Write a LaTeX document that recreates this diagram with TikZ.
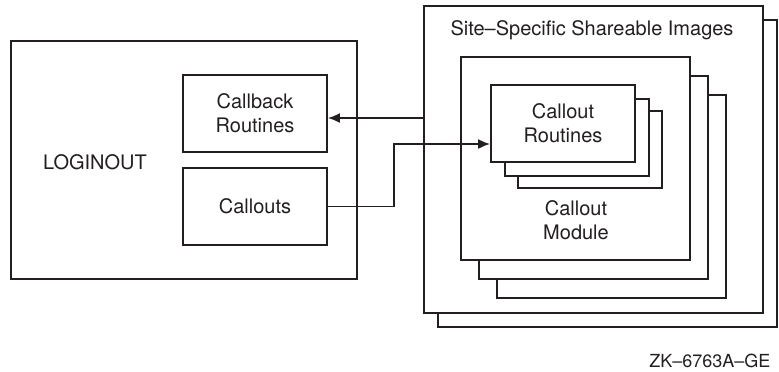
\documentclass[tikz,border=0pt]{standalone}
\usepackage{fontspec}
\setmainfont{TeX Gyre Heros}
\usetikzlibrary{arrows.meta}
\definecolor{ink}{RGB}{35,31,32}
\tikzset{
    box/.style={draw=ink, fill=white, line width=.9pt, align=center, inner sep=0pt},
    rtnbox/.style={box, minimum width=72pt, minimum height=38.5pt},
    modbox/.style={box, minimum width=114.5pt, minimum height=101.5pt},
    sitebox/.style={box, minimum width=169.5pt, minimum height=153.5pt},
}
\begin{document}
\begin{tikzpicture}[x=.5pt, y=-.5pt, >={Latex[length=6pt,width=5pt]}, line width=.9pt,
    draw=ink, text=ink, font=\fontsize{10}{12}\selectfont]
\useasboundingbox (0,0) rectangle (779,371);
% LOGINOUT side
\node[box, minimum width=173pt, minimum height=119pt] (login) at (184,160) {};
\node (loginout) at (95,162) {LOGINOUT};
\node[rtnbox] (callback) at (255,113.5) {Callback\\Routines};
\node[rtnbox] (callouts) at (255,206.5) {Callouts};
% shareable images, stacked
\node[sitebox] (siteback) at (607.5,173.5) {};
\node[sitebox] (siteimg) at (593.5,159.5) {};
\node (sitetitle) at (592,30) {Site–Specific Shareable Images};
\foreach \d/\e in {36/38,18/19}
{
    \node[modbox] (mod\d) at (575.5+\d,158.5+\e) {};
}
\node[modbox] (module) at (575.5,158.5) {};
\node[align=center] (modtext) at (576,220) {Callout\\Module};
\foreach \d/\e in {27/26,14/14}
{
    \node[rtnbox] (rtn\d) at (563+\d,123.5+\e) {};
}
\node[rtnbox] (routines) at (563,123.5) {Callout\\Routines};
% connectors
\coordinate (jog) at (394,144);
\draw[->, draw=ink] (siteimg.west |- 0,118) -- (callback.east |- 0,118);
\draw[->, draw=ink] (callouts.east) -| (jog) -- (jog -| routines.west);
\node[anchor=east, font=\fontsize{9}{10}\selectfont] (figid) at (778,361) {ZK–6763A–GE};
\end{tikzpicture}
\end{document}
